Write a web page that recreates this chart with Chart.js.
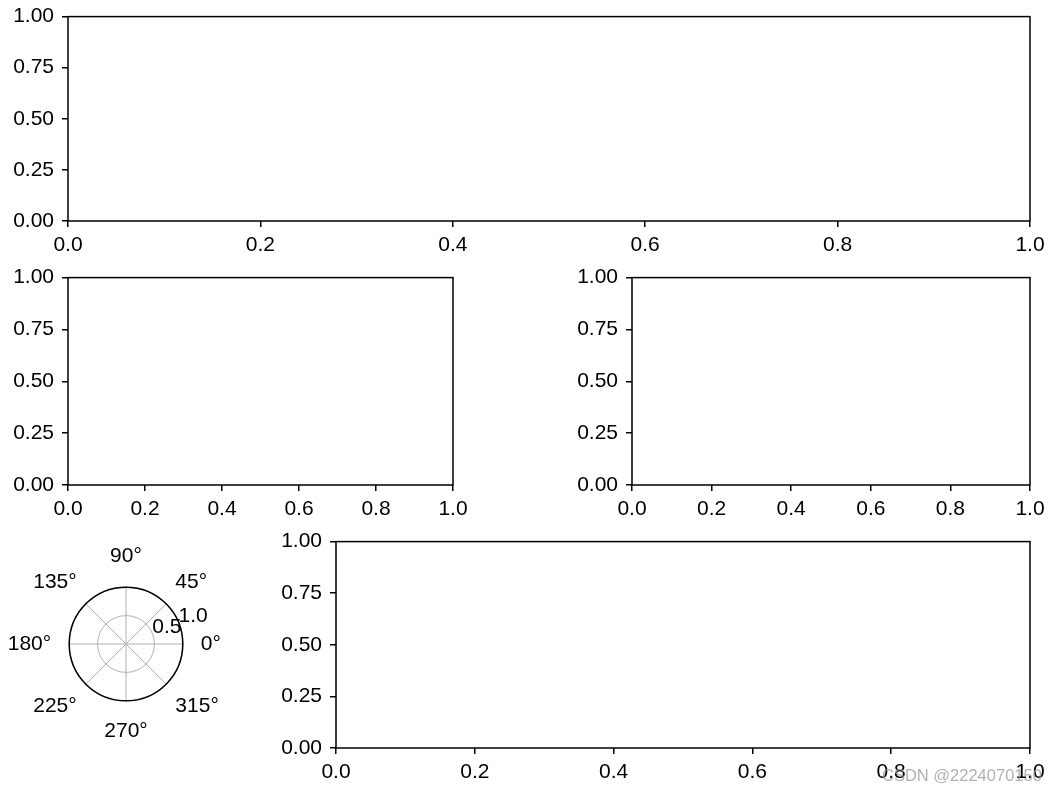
<!DOCTYPE html>
<html>
<head>
<meta charset="utf-8">
<script src="https://cdn.jsdelivr.net/npm/chart.js@4.4.0/dist/chart.umd.min.js"></script>
<style>
  html, body { margin: 0; padding: 0; background: #fff; }
  body { width: 1056px; height: 792px; position: relative; overflow: hidden; }
  canvas { position: absolute; }
  #mark { position: absolute; left: 882px; top: 766px; font: 16.5px 'Liberation Sans', Arial, sans-serif; color: rgba(150,150,150,0.75); white-space: nowrap; }
</style>
</head>
<body>
<canvas id="ax1" width="1056" height="266" style="left:0;top:-4px"></canvas>
<canvas id="ax2" width="480" height="267" style="left:0;top:257px"></canvas>
<canvas id="ax3" width="496" height="267" style="left:560px;top:257px"></canvas>
<canvas id="ax4" width="240" height="200" style="left:-5px;top:544px"></canvas>
<canvas id="ax5" width="796" height="271" style="left:260px;top:521px"></canvas>
<div id="mark">CSDN @2224070150</div>
<script>
// tick values of the empty axes
const xTicks = [0, 0.2, 0.4, 0.6, 0.8, 1.0];
const yTicks = [0, 0.25, 0.5, 0.75, 1.0];
// polar axes: angle labels (clockwise from top) and radial ticks
const thetaLabels = ['90°', '45°', '0°', '315°', '270°', '225°', '180°', '135°'];
const rTicks = [0.5, 1.0];

Chart.defaults.font.family = "'Liberation Sans', Arial, sans-serif";
Chart.defaults.font.size = 21;
Chart.defaults.color = '#000';
Chart.defaults.animation = false;

// black box round the plot area
const frame = {
  id: 'frame',
  afterDraw(chart) {
    const a = chart.chartArea, ctx = chart.ctx;
    ctx.save();
    ctx.strokeStyle = '#000';
    ctx.lineWidth = 1.5;
    ctx.strokeRect(a.left, a.top, a.right - a.left, a.bottom - a.top);
    ctx.restore();
  }
};

const tickGrid = { drawOnChartArea: false, drawTicks: true, tickLength: 6, color: '#000', lineWidth: 1.5 };

function axes(id, b) {
  new Chart(document.getElementById(id), {
    type: 'scatter',
    data: { datasets: [] },
    options: {
      responsive: false,
      layout: { padding: { top: b.top, right: b.right, left: 0, bottom: 0 } },
      plugins: { legend: { display: false }, tooltip: { enabled: false } },
      scales: {
        x: {
          type: 'linear', min: 0, max: 1,
          afterBuildTicks: s => { s.ticks = xTicks.map(v => ({ value: v })); },
          afterFit: s => { s.height = b.xh; },
          grid: tickGrid,
          border: { display: false },
          ticks: { padding: 6, autoSkip: false, maxRotation: 0, callback: v => v.toFixed(1) }
        },
        y: {
          type: 'linear', min: 0, max: 1,
          afterBuildTicks: s => { s.ticks = yTicks.map(v => ({ value: v })); },
          afterFit: s => { s.width = b.yw; },
          grid: tickGrid,
          border: { display: false },
          ticks: { padding: 8, autoSkip: false, callback: v => v.toFixed(2) }
        }
      }
    },
    plugins: [frame]
  });
}

axes('ax1', { top: 15, right: 26, yw: 68, xh: 41 });
axes('ax2', { top: 15, right: 27, yw: 68, xh: 39 });
axes('ax3', { top: 15, right: 26, yw: 72, xh: 39 });
axes('ax5', { top: 17, right: 26, yw: 76, xh: 44 });

// radial tick labels at 22.5 deg and the black outer spine
const polarExtras = {
  id: 'polarExtras',
  afterDraw(chart) {
    const s = chart.scales.r, ctx = chart.ctx;
    ctx.save();
    ctx.strokeStyle = '#000';
    ctx.lineWidth = 1.5;
    ctx.beginPath();
    ctx.arc(s.xCenter, s.yCenter, s.getDistanceFromCenterForValue(1), 0, Math.PI * 2);
    ctx.stroke();
    ctx.fillStyle = '#000';
    ctx.font = "21px 'Liberation Sans', Arial, sans-serif";
    ctx.textAlign = 'left';
    ctx.textBaseline = 'alphabetic';
    const a = 22.5 * Math.PI / 180;
    rTicks.forEach(v => {
      const d = s.getDistanceFromCenterForValue(v);
      ctx.fillText(v.toFixed(1), s.xCenter + d * Math.cos(a), s.yCenter - d * Math.sin(a));
    });
    ctx.restore();
  }
};

new Chart(document.getElementById('ax4'), {
  type: 'radar',
  data: { labels: thetaLabels, datasets: [] },
  options: {
    responsive: false,
    plugins: { legend: { display: false }, tooltip: { enabled: false } },
    scales: {
      r: {
        min: 0, max: 1,
        afterBuildTicks: s => { s.ticks = [0].concat(rTicks).map(v => ({ value: v })); },
        ticks: { display: false },
        grid: { circular: true, color: '#b0b0b0', lineWidth: 1 },
        angleLines: { color: '#b0b0b0', lineWidth: 1 },
        pointLabels: {
          color: '#000', font: { size: 21 },
          // diagonal labels sit a bit closer in
          padding: c => (c.index % 2 === 1 ? 13 : 18)
        }
      }
    }
  },
  plugins: [polarExtras]
});
</script>
</body>
</html>
